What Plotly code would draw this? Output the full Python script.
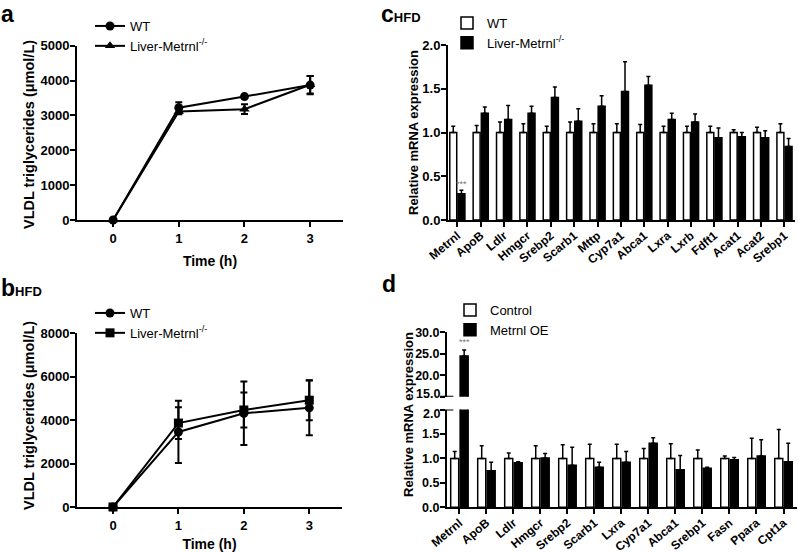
import plotly.graph_objects as go

W, H = 798, 552

# ---------------- data ----------------
time_h = [0, 1, 2, 3]
time_ticks = ["0", "1", "2", "3"]

a_wt = [0, 3220, 3540, 3870]
a_wt_err = [0, 160, 40, 260]
a_ko = [0, 3110, 3180, 3880]
a_ko_err = [0, 80, 140, 250]

b_wt = [0, 3450, 4310, 4560]
b_wt_err = [0, 1430, 1460, 1260]
b_ko = [0, 3860, 4460, 4910]
b_ko_err = [0, 730, 800, 920]

c_genes = ["Metrnl", "ApoB", "Ldlr", "Hmgcr", "Srebp2", "Scarb1", "Mttp", "Cyp7a1",
           "Abca1", "Lxra", "Lxrb", "Fdft1", "Acat1", "Acat2", "Srebp1"]
c_wt = [1.0, 1.0, 1.0, 1.0, 1.0, 1.0, 1.0, 1.0, 1.0, 1.0, 1.0, 1.0, 1.0, 1.0, 1.0]
c_wt_err = [0.07, 0.08, 0.12, 0.10, 0.07, 0.12, 0.10, 0.10, 0.09, 0.07, 0.07, 0.07, 0.03, 0.06, 0.10]
c_ko = [0.30, 1.22, 1.15, 1.22, 1.40, 1.13, 1.30, 1.47, 1.54, 1.15, 1.12, 0.94, 0.95, 0.94, 0.84]
c_ko_err = [0.04, 0.07, 0.16, 0.08, 0.12, 0.14, 0.12, 0.34, 0.10, 0.07, 0.09, 0.11, 0.05, 0.08, 0.09]

d_genes = ["Metrnl", "ApoB", "Ldlr", "Hmgcr", "Srebp2", "Scarb1", "Lxra", "Cyp7a1",
           "Abca1", "Srebp1", "Fasn", "Ppara", "Cpt1a"]
d_ctrl = [1.0, 1.0, 1.0, 1.0, 1.0, 1.0, 1.0, 1.0, 1.0, 1.0, 1.0, 1.0, 1.0]
d_ctrl_err = [0.14, 0.26, 0.11, 0.26, 0.28, 0.29, 0.29, 0.20, 0.30, 0.17, 0.05, 0.41, 0.59]
d_oe = [24.5, 0.75, 0.91, 1.01, 0.86, 0.82, 0.92, 1.31, 0.77, 0.80, 0.97, 1.05, 0.93]
d_oe_err = [1.4, 0.17, 0.02, 0.09, 0.37, 0.10, 0.22, 0.11, 0.29, 0.02, 0.05, 0.33, 0.38]
d_zero = [0, 0, 0, 0, 0, 0, 0, 0, 0, 0, 0, 0, 0]
c_zero = [0, 0, 0, 0, 0, 0, 0, 0, 0, 0, 0, 0, 0, 0, 0]

d_low_ticks = [0, 0.5, 1.0, 1.5]
d_low_ticktext = ["0.0", "0.5", "1.0", "1.5"]
d_up_ticks = [20, 25, 30]
d_up_ticktext = ["20.0", "25.0", "30.0"]
d_break_low, d_break_high = 2.0, 15.0

FONT = "Liberation Sans, Arial, sans-serif"
KO_NAME = "Liver-Metrnl<sup>-/-</sup>"


def xd(p0, p1):
    return [p0 / W, p1 / W]


def yd(top, bottom):
    return [1 - bottom / H, 1 - top / H]


fig = go.Figure()

# ---------------- panel a ----------------
fig.add_trace(go.Scatter(
    x=time_h, y=a_wt, name="WT", mode="lines+markers",
    line=dict(color="black", width=2), marker=dict(symbol="circle", size=9, color="black"),
    error_y=dict(type="data", array=a_wt_err, color="black", thickness=2, width=3.5),
    xaxis="x", yaxis="y", legend="legend", cliponaxis=False))
fig.add_trace(go.Scatter(
    x=time_h, y=a_ko, name=KO_NAME, mode="lines+markers",
    line=dict(color="black", width=2), marker=dict(symbol="triangle-up", size=9, color="black"),
    error_y=dict(type="data", array=a_ko_err, color="black", thickness=2, width=3.5),
    xaxis="x", yaxis="y", legend="legend", cliponaxis=False))

# ---------------- panel b ----------------
fig.add_trace(go.Scatter(
    x=time_h, y=b_wt, name="WT", mode="lines+markers",
    line=dict(color="black", width=2), marker=dict(symbol="circle", size=9, color="black"),
    error_y=dict(type="data", array=b_wt_err, color="black", thickness=2, width=3.5),
    xaxis="x2", yaxis="y2", legend="legend2", cliponaxis=False))
fig.add_trace(go.Scatter(
    x=time_h, y=b_ko, name=KO_NAME, mode="lines+markers",
    line=dict(color="black", width=2), marker=dict(symbol="square", size=9, color="black"),
    error_y=dict(type="data", array=b_ko_err, color="black", thickness=2, width=3.5),
    xaxis="x2", yaxis="y2", legend="legend2", cliponaxis=False))

# ---------------- panel c ----------------
fig.add_trace(go.Bar(
    x=c_genes, y=c_wt, name="WT", marker=dict(color="white", line=dict(color="black", width=1.5)),
    error_y=dict(type="data", symmetric=False, array=c_wt_err, arrayminus=c_zero,
                 color="black", thickness=1.5, width=2),
    xaxis="x3", yaxis="y3", legend="legend3", offsetgroup="1"))
fig.add_trace(go.Bar(
    x=c_genes, y=c_ko, name=KO_NAME, marker=dict(color="black", line=dict(color="black", width=1.5)),
    error_y=dict(type="data", symmetric=False, array=c_ko_err, arrayminus=c_zero,
                 color="black", thickness=1.5, width=2),
    xaxis="x3", yaxis="y3", legend="legend3", offsetgroup="2"))

# ---------------- panel d (lower and upper segments) ----------------
fig.add_trace(go.Bar(
    x=d_genes, y=d_ctrl, name="Control", marker=dict(color="white", line=dict(color="black", width=1.5)),
    error_y=dict(type="data", symmetric=False, array=d_ctrl_err, arrayminus=d_zero,
                 color="black", thickness=1.5, width=2),
    xaxis="x4", yaxis="y4", legend="legend4", offsetgroup="1"))
fig.add_trace(go.Bar(
    x=d_genes, y=d_oe, name="Metrnl OE", marker=dict(color="black", line=dict(color="black", width=1.5)),
    error_y=dict(type="data", symmetric=False, array=d_oe_err, arrayminus=d_zero,
                 color="black", thickness=1.5, width=2),
    xaxis="x4", yaxis="y4", legend="legend4", offsetgroup="2"))
fig.add_trace(go.Bar(
    x=d_genes, y=d_ctrl, name="Control", showlegend=False,
    marker=dict(color="white", line=dict(color="black", width=1.5)),
    error_y=dict(type="data", symmetric=False, array=d_ctrl_err, arrayminus=d_zero,
                 color="black", thickness=1.5, width=2),
    xaxis="x5", yaxis="y5", offsetgroup="1"))
fig.add_trace(go.Bar(
    x=d_genes, y=d_oe, name="Metrnl OE", showlegend=False,
    marker=dict(color="black", line=dict(color="black", width=1.5)),
    error_y=dict(type="data", symmetric=False, array=d_oe_err, arrayminus=d_zero,
                 color="black", thickness=1.5, width=2),
    xaxis="x5", yaxis="y5", offsetgroup="2"))

# ---------------- axes ----------------
ax_common = dict(showline=True, linecolor="black", linewidth=2, ticks="outside",
                 ticklen=5, tickwidth=2, tickcolor="black", showgrid=False, zeroline=False,
                 automargin=False,
                 tickfont=dict(family=FONT, size=13, color="black", weight="bold"))
y_common = dict(ax_common, ticklabelstandoff=-2)
title_font = dict(family=FONT, size=14, color="black", weight="bold")
cat_font = dict(family=FONT, size=12, color="black", weight="bold")
brk_font = dict(family=FONT, size=12.5, color="black", weight="bold")

fig.update_layout(
    xaxis=dict(ax_common, domain=xd(77, 343), range=[-0.55, 3.5], anchor="y",
               tickvals=time_h, ticktext=time_ticks,
               title=dict(text="Time (h)", font=title_font, standoff=12)),
    yaxis=dict(y_common, domain=yd(45.7, 220), range=[0, 5000], anchor="x",
               tickvals=[0, 1000, 2000, 3000, 4000, 5000]),
    xaxis2=dict(ax_common, domain=xd(77, 342), range=[-0.55, 3.5], anchor="y2",
                tickvals=time_h, ticktext=time_ticks,
                title=dict(text="Time (h)", font=title_font, standoff=12)),
    yaxis2=dict(y_common, domain=yd(333, 507), range=[0, 8000], anchor="x2",
                tickvals=[0, 2000, 4000, 6000, 8000]),
    xaxis3=dict(ax_common, domain=xd(448, 795), range=[-0.40, 14.45], anchor="y3",
                type="category", tickangle=-40, tickfont=cat_font, ticklabelstandoff=-3),
    yaxis3=dict(y_common, domain=yd(45, 220), range=[0, 2.0], anchor="x3",
                tickvals=[0, 0.5, 1.0, 1.5, 2.0], tickformat=".1f"),
    xaxis4=dict(ax_common, domain=xd(447, 797), range=[-0.46, 12.5], anchor="y4",
                type="category", tickangle=-40, tickfont=cat_font, ticklabelstandoff=-3),
    yaxis4=dict(y_common, domain=yd(409.5, 507.3), range=[0, d_break_low], anchor="x4",
                tickvals=d_low_ticks + [d_break_low], ticktext=d_low_ticktext + [""],
                tickfont=brk_font),
    xaxis5=dict(domain=xd(447, 797), range=[-0.46, 12.5], anchor="y5", type="category",
                visible=False, matches="x4", automargin=False),
    yaxis5=dict(y_common, domain=yd(332.3, 396.7), range=[d_break_high, 30], anchor="x5",
                tickvals=[d_break_high] + d_up_ticks, ticktext=[""] + d_up_ticktext,
                tickfont=brk_font),
)

# the two tick labels at the axis break, nudged apart so they do not collide
fig.add_annotation(text="<b>15.0</b>", xref="x5 domain", yref="y5", x=0, y=d_break_high,
                   xanchor="right", yanchor="middle", xshift=-5, yshift=3, showarrow=False,
                   font=dict(family=FONT, size=12.5, color="black"))
fig.add_annotation(text="<b>2.0</b>", xref="x4 domain", yref="y4", x=0, y=d_break_low,
                   xanchor="right", yanchor="middle", xshift=-5, yshift=-4, showarrow=False,
                   font=dict(family=FONT, size=12.5, color="black"))


# y-axis titles
def ytitle(text, x, y, size):
    fig.add_annotation(text="<b>%s</b>" % text, xref="paper", yref="paper",
                       x=x / W, y=1 - y / H, textangle=-90, showarrow=False,
                       xanchor="center", yanchor="middle",
                       font=dict(family=FONT, size=size, color="black"))


ytitle("VLDL triglycerides (μmol/L)", 29, 135, 14.5)
ytitle("VLDL triglycerides (μmol/L)", 29, 416, 14.5)
ytitle("Relative mRNA expression", 414, 133, 13)
ytitle("Relative mRNA expression", 408, 415, 13)

# break marks on the d axis
fig.add_shape(type="line", xref="x5 domain", yref="y5", x0=-0.02, x1=0.018, y0=d_break_high,
              y1=d_break_high, line=dict(color="black", width=2))
fig.add_shape(type="line", xref="x4 domain", yref="y4", x0=-0.02, x1=0.018, y0=d_break_low,
              y1=d_break_low, line=dict(color="black", width=2))

# significance marks
fig.add_annotation(text="***", x="Metrnl", y=c_ko[0] + c_ko_err[0], xref="x3", yref="y3",
                   xshift=4, yshift=6, showarrow=False,
                   font=dict(family=FONT, size=9, color="#777777"))
fig.add_annotation(text="***", x="Metrnl", y=d_oe[0] + d_oe_err[0], xref="x5", yref="y5",
                   xshift=5, yshift=8, showarrow=False,
                   font=dict(family=FONT, size=9, color="#777777"))


# panel letters
def panel_label(txt, sub, x, y):
    s = "<b>%s</b>" % txt
    if sub:
        s += "<b><span style='font-size:13px'>%s</span></b>" % sub
    fig.add_annotation(text=s, xref="paper", yref="paper", x=x / W, y=1 - y / H,
                       xanchor="left", yanchor="bottom", showarrow=False,
                       font=dict(family=FONT, size=23, color="black"))


panel_label("a", None, -1, 29)
panel_label("b", "HFD", -1, 303)
panel_label("c", "HFD", 379, 29)
panel_label("d", None, 380, 299)

leg_common = dict(font=dict(family=FONT, size=13, color="black"), bgcolor="rgba(0,0,0,0)",
                  xanchor="left", yanchor="top", tracegroupgap=0, itemwidth=30)
fig.update_layout(
    legend=dict(leg_common, x=90 / W, y=1 - 11 / H),
    legend2=dict(leg_common, x=90 / W, y=1 - 298 / H),
    legend3=dict(leg_common, x=447 / W, y=1 - 8 / H),
    legend4=dict(leg_common, x=450 / W, y=1 - 295 / H),
    barmode="group", bargap=0.3, bargroupgap=0.15,
    width=W, height=H, margin=dict(l=0, r=0, t=0, b=0, autoexpand=False),
    paper_bgcolor="white", plot_bgcolor="white",
    font=dict(family=FONT, color="black"),
)

fig.write_html("out.html", config={"displayModeBar": False},
               post_script="document.body.style.margin='0';")
